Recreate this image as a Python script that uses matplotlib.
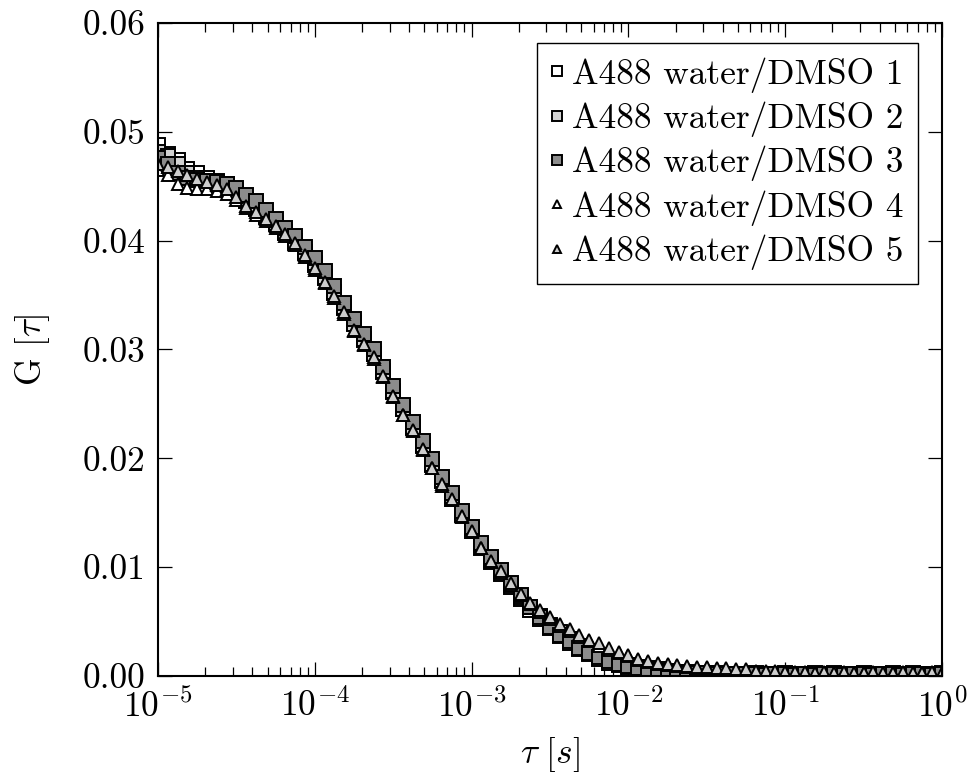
import matplotlib
matplotlib.use("Agg")
import matplotlib.pyplot as plt
from matplotlib.ticker import FormatStrFormatter, LogLocator, NullFormatter

plt.rcParams['font.family'] = 'serif'
plt.rcParams['font.serif'] = ['cmr10']
plt.rcParams['mathtext.fontset'] = 'cm'
plt.rcParams['axes.formatter.use_mathtext'] = True
plt.rcParams['font.size'] = 25.5

# lag times (s)
tau = [
    1.000e-5, 1.155e-5, 1.334e-5, 1.540e-5, 1.778e-5, 2.054e-5, 2.371e-5, 2.738e-5,
    3.162e-5, 3.652e-5, 4.217e-5, 4.870e-5, 5.623e-5, 6.494e-5, 7.499e-5, 8.660e-5,
    1.000e-4, 1.155e-4, 1.334e-4, 1.540e-4, 1.778e-4, 2.054e-4, 2.371e-4, 2.738e-4,
    3.162e-4, 3.652e-4, 4.217e-4, 4.870e-4, 5.623e-4, 6.494e-4, 7.499e-4, 8.660e-4,
    1.000e-3, 1.155e-3, 1.334e-3, 1.540e-3, 1.778e-3, 2.054e-3, 2.371e-3, 2.738e-3,
    3.162e-3, 3.652e-3, 4.217e-3, 4.870e-3, 5.623e-3, 6.494e-3, 7.499e-3, 8.660e-3,
    1.000e-2, 1.155e-2, 1.334e-2, 1.540e-2, 1.778e-2, 2.054e-2, 2.371e-2, 2.738e-2,
    3.162e-2, 3.652e-2, 4.217e-2, 4.870e-2, 5.623e-2, 6.494e-2, 7.499e-2, 8.660e-2,
    1.000e-1, 1.155e-1, 1.334e-1, 1.540e-1, 1.778e-1, 2.054e-1, 2.371e-1, 2.738e-1,
    3.162e-1, 3.652e-1, 4.217e-1, 4.870e-1, 5.623e-1, 6.494e-1, 7.499e-1, 8.660e-1,
    1.000e0,
]

# G(tau) for each measurement
g1 = [
    0.0488, 0.0480, 0.0474, 0.0466, 0.0462, 0.0458, 0.0455, 0.0452, 0.0446, 0.0436,
    0.0429, 0.0422, 0.0415, 0.0407, 0.0398, 0.0389, 0.0378, 0.0366, 0.0352, 0.0338,
    0.0324, 0.0309, 0.0296, 0.0279, 0.0261, 0.0245, 0.0228, 0.0211, 0.0194, 0.0179,
    0.0163, 0.0148, 0.0133, 0.0118, 0.0105, 0.0094, 0.0082, 0.0071, 0.0061, 0.0052,
    0.0044, 0.0037, 0.0030, 0.0025, 0.0020, 0.0016, 0.0012, 0.0010, 0.0008, 0.0006,
    0.0005, 0.0004, 0.0004, 0.0003, 0.0003, 0.0002, 0.0002, 0.0002, 0.0002, 0.0002,
    0.0002, 0.0001, 0.0002, 0.0002, 0.0001, 0.0002, 0.0002, 0.0001, 0.0002, 0.0002,
    0.0001, 0.0002, 0.0002, 0.0001, 0.0002, 0.0002, 0.0001, 0.0002, 0.0002, 0.0001,
    0.0002,
]
g2 = [
    0.0481, 0.0478, 0.0470, 0.0462, 0.0458, 0.0455, 0.0452, 0.0450, 0.0445, 0.0437,
    0.0430, 0.0423, 0.0416, 0.0408, 0.0400, 0.0390, 0.0379, 0.0367, 0.0353, 0.0339,
    0.0323, 0.0310, 0.0296, 0.0280, 0.0262, 0.0245, 0.0229, 0.0212, 0.0195, 0.0180,
    0.0165, 0.0149, 0.0135, 0.0120, 0.0107, 0.0096, 0.0084, 0.0073, 0.0063, 0.0055,
    0.0047, 0.0040, 0.0034, 0.0028, 0.0023, 0.0019, 0.0015, 0.0012, 0.0010, 0.0008,
    0.0007, 0.0006, 0.0005, 0.0004, 0.0004, 0.0003, 0.0003, 0.0003, 0.0002, 0.0002,
    0.0002, 0.0003, 0.0002, 0.0002, 0.0003, 0.0002, 0.0002, 0.0003, 0.0002, 0.0003,
    0.0002, 0.0002, 0.0003, 0.0002, 0.0002, 0.0003, 0.0002, 0.0003, 0.0002, 0.0002,
    0.0003,
]
g3 = [
    0.0476, 0.0470, 0.0462, 0.0458, 0.0456, 0.0455, 0.0454, 0.0452, 0.0448, 0.0442,
    0.0436, 0.0428, 0.0420, 0.0412, 0.0404, 0.0394, 0.0384, 0.0372, 0.0358, 0.0343,
    0.0328, 0.0314, 0.0300, 0.0284, 0.0266, 0.0249, 0.0233, 0.0216, 0.0199, 0.0183,
    0.0168, 0.0152, 0.0137, 0.0122, 0.0109, 0.0097, 0.0085, 0.0074, 0.0063, 0.0054,
    0.0045, 0.0038, 0.0032, 0.0026, 0.0021, 0.0017, 0.0014, 0.0011, 0.0009, 0.0007,
    0.0006, 0.0005, 0.0004, 0.0004, 0.0003, 0.0003, 0.0003, 0.0002, 0.0002, 0.0002,
    0.0002, 0.0002, 0.0001, 0.0002, 0.0002, 0.0001, 0.0002, 0.0001, 0.0002, 0.0002,
    0.0001, 0.0002, 0.0002, 0.0001, 0.0002, 0.0002, 0.0001, 0.0002, 0.0002, 0.0001,
    0.0002,
]
g4 = [
    0.0465, 0.0460, 0.0452, 0.0448, 0.0447, 0.0447, 0.0446, 0.0443, 0.0437, 0.0430,
    0.0424, 0.0418, 0.0412, 0.0404, 0.0396, 0.0385, 0.0373, 0.0361, 0.0347, 0.0333,
    0.0317, 0.0304, 0.0291, 0.0275, 0.0256, 0.0240, 0.0225, 0.0208, 0.0191, 0.0175,
    0.0162, 0.0146, 0.0132, 0.0118, 0.0105, 0.0095, 0.0084, 0.0074, 0.0066, 0.0059,
    0.0052, 0.0046, 0.0041, 0.0036, 0.0032, 0.0028, 0.0024, 0.0021, 0.0018, 0.0015,
    0.0013, 0.0011, 0.0010, 0.0009, 0.0008, 0.0007, 0.0007, 0.0006, 0.0005, 0.0005,
    0.0004, 0.0004, 0.0004, 0.0003, 0.0003, 0.0003, 0.0003, 0.0002, 0.0003, 0.0002,
    0.0003, 0.0002, 0.0003, 0.0002, 0.0002, 0.0003, 0.0002, 0.0002, 0.0003, 0.0002,
    0.0002,
]
g5 = [
    0.0470, 0.0468, 0.0464, 0.0460, 0.0457, 0.0454, 0.0451, 0.0447, 0.0440, 0.0432,
    0.0426, 0.0420, 0.0413, 0.0406, 0.0398, 0.0387, 0.0375, 0.0362, 0.0349, 0.0334,
    0.0318, 0.0305, 0.0293, 0.0276, 0.0257, 0.0240, 0.0226, 0.0209, 0.0191, 0.0176,
    0.0163, 0.0147, 0.0133, 0.0118, 0.0106, 0.0096, 0.0085, 0.0075, 0.0067, 0.0061,
    0.0054, 0.0048, 0.0043, 0.0038, 0.0033, 0.0030, 0.0026, 0.0022, 0.0019, 0.0016,
    0.0014, 0.0012, 0.0011, 0.0010, 0.0009, 0.0008, 0.0008, 0.0007, 0.0007, 0.0006,
    0.0006, 0.0005, 0.0005, 0.0005, 0.0004, 0.0004, 0.0004, 0.0003, 0.0004, 0.0003,
    0.0004, 0.0003, 0.0003, 0.0004, 0.0003, 0.0003, 0.0004, 0.0003, 0.0003, 0.0004,
    0.0003,
]

labels = ['A488 water/DMSO 1', 'A488 water/DMSO 2', 'A488 water/DMSO 3',
          'A488 water/DMSO 4', 'A488 water/DMSO 5']
series = [g1, g2, g3, g4, g5]
markers = ['s', 's', 's', '^', '^']
faces = ['white', '#d2d2d2', '#8c8c8c', 'white', '#cdcdcd']
sizes = [10.5, 10.5, 10.5, 9, 9]

fig = plt.figure(figsize=(9.79, 7.76), dpi=100)
ax = fig.add_axes([0.1614, 0.1289, 0.8008, 0.8415])

for g, m, fc, ms, lab in zip(series, markers, faces, sizes, labels):
    ax.plot(tau, g, linestyle='none', marker=m, markersize=ms,
            markerfacecolor=fc, markeredgecolor='black', markeredgewidth=1.4,
            label=lab)

ax.set_xscale('log')
ax.set_xlim(1e-5, 1)
ax.set_ylim(0, 0.06)
ax.set_yticks([0, 0.01, 0.02, 0.03, 0.04, 0.05, 0.06])
ax.yaxis.set_major_formatter(FormatStrFormatter('%.2f'))
ax.xaxis.set_minor_locator(LogLocator(base=10, subs=range(2, 10)))
ax.xaxis.set_minor_formatter(NullFormatter())

ax.tick_params(which='both', direction='in', top=True, right=True, width=0.9)
ax.tick_params(which='major', length=10, pad=9)
ax.tick_params(which='minor', length=6.5)
for sp in ax.spines.values():
    sp.set_linewidth(1.5)

ax.set_xlabel(r'$\tau\ [s]$', labelpad=8)
ax.set_ylabel(r'G [$\tau$]', labelpad=22)

leg = ax.legend(loc='upper right', bbox_to_anchor=(0.969, 0.9694), fancybox=False,
                edgecolor='black', framealpha=1, markerscale=0.65,
                handlelength=0.35, handletextpad=0.25, labelspacing=0.25,
                borderpad=0.4, borderaxespad=0)
leg.get_frame().set_linewidth(1.0)

fig.savefig('out.png', dpi=100)
